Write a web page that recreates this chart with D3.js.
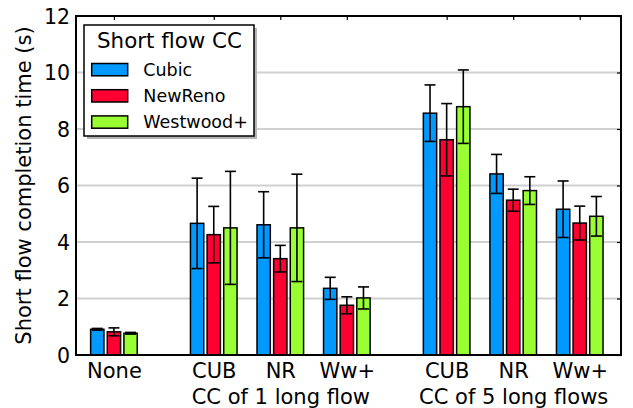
<!DOCTYPE html>
<html>
<head>
<meta charset="utf-8">
<script src="https://cdn.jsdelivr.net/npm/d3@7"></script>
<style>
  body { margin: 0; background: #fff; }
  svg text { font-family: "DejaVu Sans", sans-serif; fill: #000; }
</style>
</head>
<body>
<script>
let w = 633;
let h = 408;
let plotL = 76, plotR = 621, plotT = 16, plotB = 355;

// data
let positions = [0, 1.5, 2.5, 3.5, 5, 6, 7];
let tickLabels = ["None", "CUB", "NR|CC of 1 long flow", "Ww+", "CUB", "NR|CC of 5 long flows", "Ww+"];
let seriesNames = ["Cubic", "NewReno", "Westwood+"];
let seriesColors = ["#0099ff", "#ff0033", "#99ff33"];
let cubic = [0.91, 4.66, 4.61, 2.36, 8.56, 6.41, 5.16];
let cubicErr = [0.03, 1.6, 1.17, 0.39, 1.0, 0.69, 1.0];
let newreno = [0.82, 4.26, 3.41, 1.76, 7.62, 5.48, 4.67];
let newrenoErr = [0.14, 1.0, 0.47, 0.3, 1.28, 0.39, 0.6];
let westwood = [0.77, 4.5, 4.5, 2.02, 8.79, 5.82, 4.91];
let westwoodErr = [0.03, 2.0, 1.9, 0.39, 1.3, 0.49, 0.7];
let yTicks = [0, 2, 4, 6, 8, 10, 12];

let series = [
  { name: seriesNames[0], vals: cubic, errs: cubicErr, off: -0.25 },
  { name: seriesNames[1], vals: newreno, errs: newrenoErr, off: 0 },
  { name: seriesNames[2], vals: westwood, errs: westwoodErr, off: 0.25 }
];

let svg = d3.select("body").append("svg").attr("width", w).attr("height", h);

let xScale = d3.scaleLinear().domain([-0.57, 7.62]).range([plotL, plotR]);
let yScale = d3.scaleLinear().domain([0, 12]).range([plotB, plotT]);
let barW = xScale(0.2) - xScale(0);

// gridlines
svg.append("g")
  .selectAll("line")
  .data(yTicks.slice(1, -1))
  .enter()
  .append("line")
  .attr("x1", plotL).attr("x2", plotR)
  .attr("y1", (d) => yScale(d)).attr("y2", (d) => yScale(d))
  .attr("stroke", "#d0d0d0")
  .attr("stroke-width", 2);

// bars + error bars
series.forEach((s, si) => {
  let g = svg.append("g");
  let rows = positions.map((p, i) => ({ p: p, v: s.vals[i], e: s.errs[i] }));
  g.selectAll("rect")
    .data(rows)
    .enter()
    .append("rect")
    .attr("x", (d) => xScale(d.p + s.off) - barW / 2)
    .attr("y", (d) => yScale(d.v))
    .attr("width", barW)
    .attr("height", (d) => yScale(0) - yScale(d.v))
    .attr("fill", seriesColors[si])
    .attr("stroke", "#000")
    .attr("stroke-width", 1.5);
  let eb = g.selectAll("g.err")
    .data(rows)
    .enter()
    .append("g")
    .attr("class", "err")
    .attr("stroke", "#000")
    .attr("stroke-width", 1.6);
  eb.append("line")
    .attr("x1", (d) => xScale(d.p + s.off)).attr("x2", (d) => xScale(d.p + s.off))
    .attr("y1", (d) => yScale(d.v - d.e)).attr("y2", (d) => yScale(d.v + d.e));
  [-1, 1].forEach((sign) => {
    eb.append("line")
      .attr("x1", (d) => xScale(d.p + s.off) - 5.5).attr("x2", (d) => xScale(d.p + s.off) + 5.5)
      .attr("y1", (d) => yScale(d.v + sign * d.e)).attr("y2", (d) => yScale(d.v + sign * d.e));
  });
});

// frame
svg.append("rect")
  .attr("x", plotL).attr("y", plotT)
  .attr("width", plotR - plotL).attr("height", plotB - plotT)
  .attr("fill", "none")
  .attr("stroke", "#000")
  .attr("stroke-width", 2);

// inner ticks top and right
let topAxis = d3.axisTop(xScale).tickValues(positions).tickSize(-4).tickFormat("");
svg.append("g").attr("transform", "translate(0," + plotT + ")").call(topAxis)
  .call((g) => g.select(".domain").remove())
  .selectAll("line").attr("stroke-width", 1.2);
let rightAxis = d3.axisRight(yScale).tickValues(yTicks).tickSize(-4).tickFormat("");
svg.append("g").attr("transform", "translate(" + plotR + ",0)").call(rightAxis)
  .call((g) => g.select(".domain").remove())
  .selectAll("line").attr("stroke-width", 1.2);

// y axis labels
let yAxis = d3.axisLeft(yScale).tickValues(yTicks).tickSize(0).tickPadding(6);
let ya = svg.append("g").attr("transform", "translate(" + plotL + ",0)").call(yAxis);
ya.select(".domain").remove();
ya.selectAll("text").style("font-size", "20.5px").attr("dy", "0.36em");

// x axis labels
let xAxis = d3.axisBottom(xScale).tickValues(positions).tickSize(0).tickFormat((d, i) => tickLabels[i]);
let xa = svg.append("g").attr("transform", "translate(0," + plotB + ")").call(xAxis);
xa.select(".domain").remove();
xa.selectAll("text")
  .style("font-size", "21px")
  .attr("y", 0).attr("dy", null)
  .each(function (d, i) {
    let lines = tickLabels[i].split("|");
    let t = d3.select(this).text(null);
    lines.forEach((ln, k) => {
      t.append("tspan").attr("x", 0).attr("y", k === 0 ? 22.7 : 49).text(ln);
    });
  });

svg.append("text")
  .attr("transform", "translate(31," + ((plotT + plotB) / 2) + ") rotate(-90)")
  .attr("text-anchor", "middle")
  .style("font-size", "21px")
  .text("Short flow completion time (s)");

// legend
let lg = svg.append("g");
lg.append("rect").attr("x", 87).attr("y", 28).attr("width", 170).attr("height", 111).attr("fill", "#b4b4b4");
lg.append("rect").attr("x", 84).attr("y", 25).attr("width", 170).attr("height", 111)
  .attr("fill", "#fff").attr("stroke", "#000").attr("stroke-width", 1.5);
lg.append("text").attr("x", 169.5).attr("y", 48.3).attr("text-anchor", "middle")
  .style("font-size", "21.4px").text("Short flow CC");
seriesNames.forEach((n, i) => {
  let yy = 63.5 + i * 26.2;
  lg.append("rect").attr("x", 91.7).attr("y", yy).attr("width", 36).attr("height", 12.3)
    .attr("fill", seriesColors[i]).attr("stroke", "#000").attr("stroke-width", 1.5);
  lg.append("text").attr("x", 143.3).attr("y", yy + 12.2).style("font-size", "17.5px").text(n);
});
</script>
</body>
</html>
